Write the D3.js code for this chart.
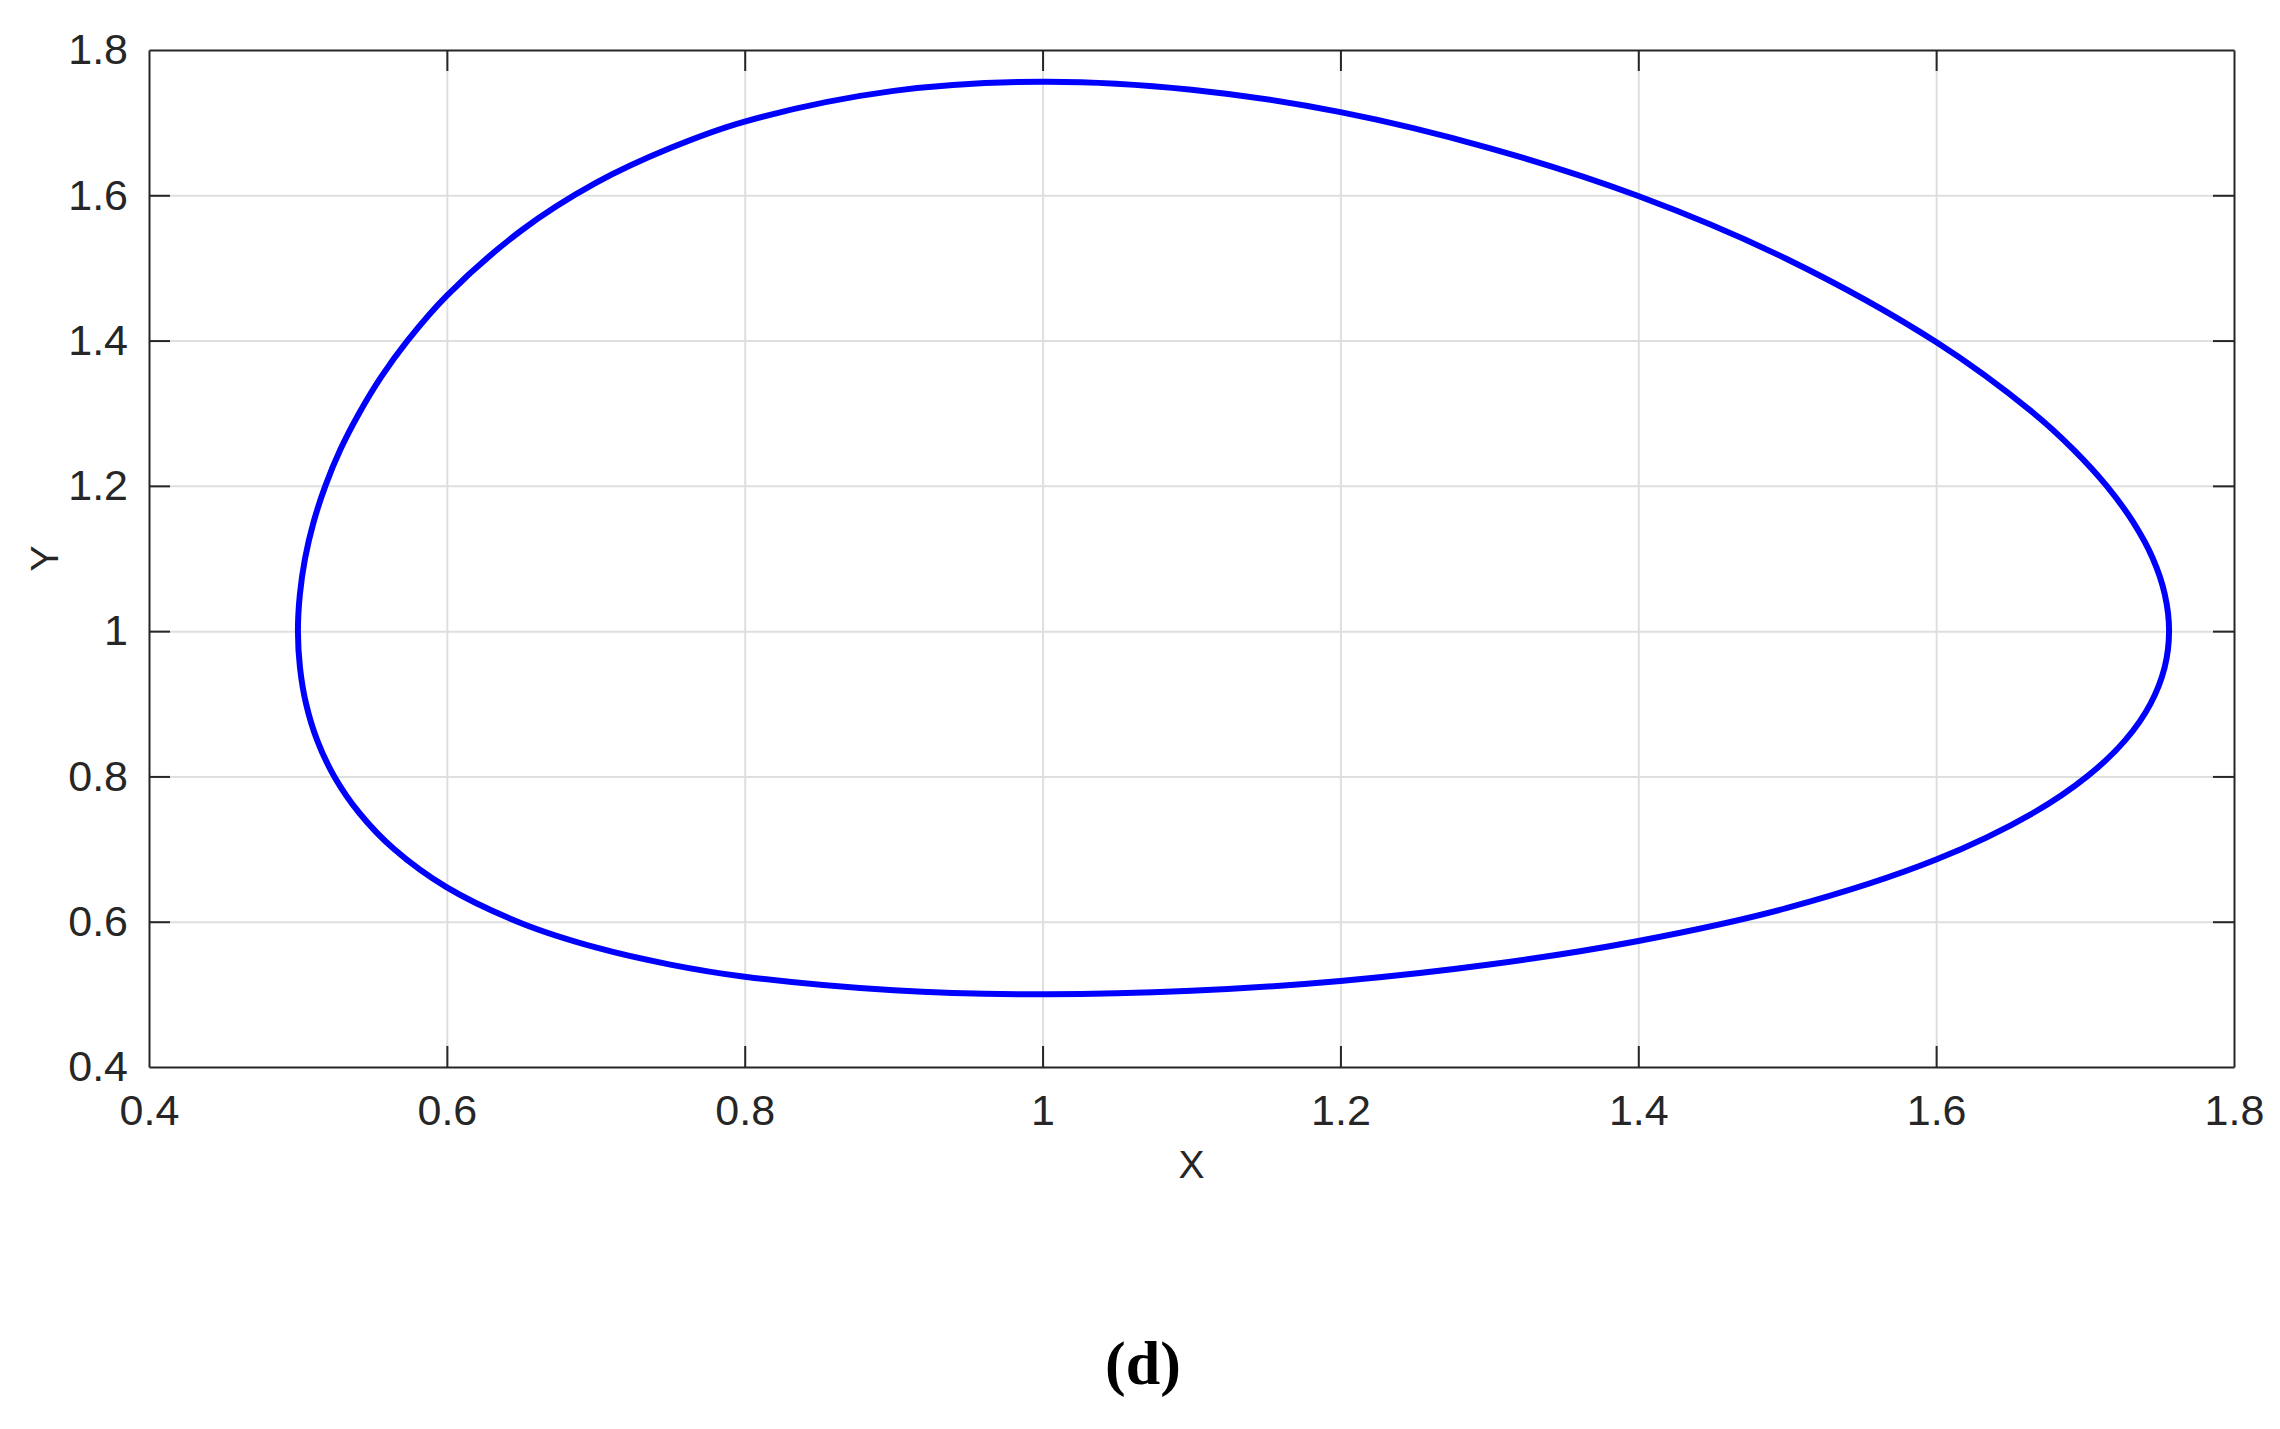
<!DOCTYPE html>
<html>
<head>
<meta charset="utf-8">
<script src="https://cdn.jsdelivr.net/npm/d3@7"></script>
<style>
  html, body { margin: 0; padding: 0; background: #ffffff; }
  svg { display: block; }
</style>
</head>
<body>
<svg id="chart" width="2280" height="1429"></svg>
<script>
// ---- Data ----
const xTicks = [0.4, 0.6, 0.8, 1.0, 1.2, 1.4, 1.6, 1.8];
const yTicks = [0.4, 0.6, 0.8, 1.0, 1.2, 1.4, 1.6, 1.8];
const xTickLabels = ["0.4", "0.6", "0.8", "1", "1.2", "1.4", "1.6", "1.8"];
const yTickLabels = ["0.4", "0.6", "0.8", "1", "1.2", "1.4", "1.6", "1.8"];

// closed orbit: X values and matching Y values
const orbitX = [
  0.5, 0.50137, 0.50546, 0.51288, 0.52439, 0.5411, 0.5645, 0.6, 0.65, 0.7, 0.75, 0.8, 0.9,
  1.0, 1.1, 1.2, 1.3, 1.4, 1.5, 1.6, 1.6654, 1.7014, 1.727, 1.7439, 1.7534,
  1.7564,
  1.7536, 1.7455, 1.7323, 1.7145, 1.6922, 1.6655, 1.6, 1.5, 1.4, 1.3, 1.2, 1.1,
  1.0, 0.9, 0.8, 0.75, 0.7, 0.65, 0.6, 0.5736, 0.5559, 0.5411, 0.5285, 0.51842, 0.51051, 0.50478, 0.50128
];
const orbitY = [
  1.0, 0.95, 0.9, 0.85, 0.8, 0.75, 0.7, 0.6472, 0.598, 0.5646, 0.541, 0.5243, 0.5056,
  0.500, 0.5048, 0.5184, 0.541, 0.5735, 0.619, 0.6856, 0.75, 0.8, 0.85, 0.9, 0.95,
  1.0,
  1.05, 1.1, 1.15, 1.2, 1.25, 1.3, 1.398, 1.512, 1.599, 1.665, 1.7145, 1.7454,
  1.7564, 1.7437, 1.7015, 1.665, 1.617, 1.5515, 1.462, 1.4, 1.35, 1.3, 1.25, 1.2, 1.15, 1.1, 1.05
];

const xDomain = [0.4, 1.8];
const yDomain = [0.4, 1.8];
const xLabel = "X";
const yLabel = "Y";
const caption = "(d)";

// ---- Layout ----
const plot = { left: 149, right: 2234, top: 50, bottom: 1067 };
const axisColor = "#262626";
const gridColor = "#dfdfdf";
const sansFont = "'Liberation Sans', Arial, Helvetica, sans-serif";
const serifFont = "'Liberation Serif', 'Times New Roman', Times, serif";

const svg = d3.select("#chart");

const x = d3.scaleLinear().domain(xDomain).range([plot.left, plot.right]);
const y = d3.scaleLinear().domain(yDomain).range([plot.bottom, plot.top]);
const W = plot.right - plot.left;
const H = plot.bottom - plot.top;

// ---- Grid ----
const gridX = svg.append("g")
  .attr("transform", `translate(0,${plot.bottom})`)
  .call(d3.axisBottom(x).tickValues(xTicks.slice(1, -1)).tickSize(-H).tickFormat(""));
const gridY = svg.append("g")
  .attr("transform", `translate(${plot.left},0)`)
  .call(d3.axisLeft(y).tickValues(yTicks.slice(1, -1)).tickSize(-W).tickFormat(""));
[gridX, gridY].forEach(g => {
  g.select(".domain").remove();
  g.selectAll(".tick line").attr("stroke", gridColor).attr("stroke-width", 2);
});

// ---- Curve ----
const pts = orbitX.map((v, i) => [v, orbitY[i]]);
const line = d3.line()
  .x(d => x(d[0]))
  .y(d => y(d[1]))
  .curve(d3.curveCatmullRomClosed.alpha(0.5));
svg.append("path")
  .datum(pts)
  .attr("d", line)
  .attr("fill", "none")
  .attr("stroke", "#0000ff")
  .attr("stroke-width", 6)
  .attr("stroke-linejoin", "round");

// ---- Axes (ticks inward, box) ----
const tickLen = 21;
const fmtX = (d) => xTickLabels[xTicks.indexOf(d)];
const fmtY = (d) => yTickLabels[yTicks.indexOf(d)];

const axB = svg.append("g")
  .attr("transform", `translate(0,${plot.bottom})`)
  .call(d3.axisBottom(x).tickValues(xTicks).tickSizeInner(-tickLen).tickSizeOuter(0)
    .tickPadding(27).tickFormat(fmtX));
const axT = svg.append("g")
  .attr("transform", `translate(0,${plot.top})`)
  .call(d3.axisTop(x).tickValues(xTicks).tickSizeInner(-tickLen).tickSizeOuter(0).tickFormat(""));
const axL = svg.append("g")
  .attr("transform", `translate(${plot.left},0)`)
  .call(d3.axisLeft(y).tickValues(yTicks).tickSizeInner(-tickLen).tickSizeOuter(0)
    .tickPadding(21).tickFormat(fmtY));
const axR = svg.append("g")
  .attr("transform", `translate(${plot.right},0)`)
  .call(d3.axisRight(y).tickValues(yTicks).tickSizeInner(-tickLen).tickSizeOuter(0).tickFormat(""));

[axB, axT, axL, axR].forEach(g => {
  g.select(".domain").attr("stroke", axisColor).attr("stroke-width", 2);
  g.selectAll(".tick line").attr("stroke", axisColor).attr("stroke-width", 2);
  g.selectAll(".tick text")
    .attr("fill", axisColor)
    .style("font-family", sansFont)
    .style("font-size", "43px");
});
// remove end ticks that coincide with the box edges
[axB, axT].forEach(g => g.selectAll(".tick").filter(d => d === xDomain[0] || d === xDomain[1]).select("line").remove());
[axL, axR].forEach(g => g.selectAll(".tick").filter(d => d === yDomain[0] || d === yDomain[1]).select("line").remove());

// ---- Axis labels ----
svg.append("text")
  .attr("x", (plot.left + plot.right) / 2)
  .attr("y", 1178)
  .attr("text-anchor", "middle")
  .attr("fill", axisColor)
  .style("font-family", sansFont)
  .style("font-size", "39px")
  .text(xLabel);

svg.append("text")
  .attr("transform", `translate(58,${(plot.top + plot.bottom) / 2}) rotate(-90)`)
  .attr("text-anchor", "middle")
  .attr("fill", axisColor)
  .style("font-family", sansFont)
  .style("font-size", "39px")
  .text(yLabel);

// ---- Caption ----
svg.append("text")
  .attr("x", 1143)
  .attr("y", 1384)
  .attr("text-anchor", "middle")
  .attr("fill", "#000000")
  .style("font-family", serifFont)
  .style("font-weight", "bold")
  .style("font-size", "62px")
  .text(caption);
</script>
</body>
</html>
